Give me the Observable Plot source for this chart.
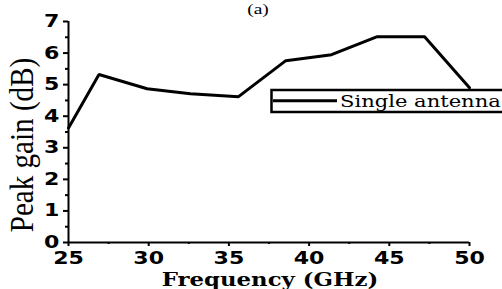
<!DOCTYPE html>
<html>
<head>
<meta charset="utf-8">
<script src="https://cdn.jsdelivr.net/npm/d3@7"></script>
<script src="https://cdn.jsdelivr.net/npm/@observablehq/plot@0.6"></script>
<style>
  html, body { margin: 0; padding: 0; background: #fff; }
</style>
</head>
<body>
<div id="chart"></div>
<script>
// Data
const freq = [25, 26.9, 29.9, 32.6, 35.6, 38.55, 41.4, 44.25, 47.2, 50];
const gain = [3.63, 5.32, 4.87, 4.71, 4.62, 5.76, 5.95, 6.52, 6.52, 4.9];
const xTicks = [25, 30, 35, 40, 45, 50];
const xMinor = [27.5, 32.5, 37.5, 42.5, 47.5];
const yTicks = [0, 1, 2, 3, 4, 5, 6, 7];
const yMinor = [0.5, 1.5, 2.5, 3.5, 4.5, 5.5, 6.5];
const seriesName = "Single antenna";
const xTitle = "Frequency (GHz)";
const yTitle = "Peak gain (dB)";
const panelLabel = "(a)";

const data = freq.map((f, i) => ({f, g: gain[i]}));

const tickFont = {fontFamily: "DejaVu Sans", fontSize: 17, fontWeight: "bold"};

const svg = Plot.plot({
  width: 502,
  height: 289,
  marginLeft: 68,
  marginRight: 33,
  marginTop: 21,
  marginBottom: 47,
  style: {background: "#fff", color: "#000", overflow: "visible"},
  x: {domain: [25, 50], label: null},
  y: {domain: [0, 7], label: null},
  marks: [
    Plot.axisX({ticks: xTicks, tickFormat: d => String(d), tickSize: 4, tickPadding: 5, strokeWidth: 2, ...tickFont, fill: "#000"}),
    Plot.axisX({ticks: xMinor, tickSize: 2, text: null, strokeWidth: 2}),
    Plot.axisY({ticks: yTicks, tickFormat: d => String(d), tickSize: 5, tickPadding: 4, strokeWidth: 2, ...tickFont, fill: "#000"}),
    Plot.axisY({ticks: yMinor, tickSize: 3, text: null, strokeWidth: 2}),
    Plot.ruleY([0], {stroke: "#000", strokeWidth: 2}),
    Plot.ruleX([25], {stroke: "#000", strokeWidth: 2}),
    Plot.line(data, {x: "f", y: "g", stroke: "#000", strokeWidth: 3, strokeLinejoin: "miter"})
  ]
});

const s = d3.select(svg);
// widen the tick labels (the reference is horizontally stretched)
s.selectAll('g[aria-label="x-axis tick label"] text, g[aria-label="y-axis tick label"] text')
  .each(function() {
    const t = this.getAttribute("transform") || "";
    this.setAttribute("transform", t + " scale(1.3,1)");
  });

// panel label
s.append("text")
  .attr("transform", "translate(258,14) scale(1.3,1)")
  .attr("text-anchor", "middle")
  .attr("font-family", "Liberation Serif")
  .attr("font-size", 15)
  .attr("fill", "#000")
  .text(panelLabel);

// x title
s.append("text")
  .attr("transform", "translate(270,286) scale(1.2,1)")
  .attr("text-anchor", "middle")
  .attr("font-family", "DejaVu Serif")
  .attr("font-weight", "bold")
  .attr("font-size", 19)
  .attr("fill", "#000")
  .text(xTitle);

// y title
s.append("text")
  .attr("transform", "translate(33,145) rotate(-90) scale(0.97,1.1)")
  .attr("text-anchor", "middle")
  .attr("font-family", "Liberation Serif")
  .attr("font-size", 30)
  .attr("fill", "#000")
  .text(yTitle);

// legend
const lg = s.append("g");
lg.append("rect")
  .attr("x", 271.5).attr("y", 90)
  .attr("width", 240).attr("height", 22)
  .attr("fill", "#fff").attr("stroke", "#000").attr("stroke-width", 2.5);
lg.append("line")
  .attr("x1", 273).attr("x2", 337).attr("y1", 100.7).attr("y2", 100.7)
  .attr("stroke", "#000").attr("stroke-width", 3);
lg.append("text")
  .attr("transform", "translate(340,107.3) scale(1.24,1)")
  .attr("text-anchor", "start")
  .attr("font-family", "DejaVu Serif")
  .attr("font-size", 17)
  .attr("fill", "#000")
  .text(seriesName);

document.getElementById("chart").appendChild(svg);
</script>
</body>
</html>
